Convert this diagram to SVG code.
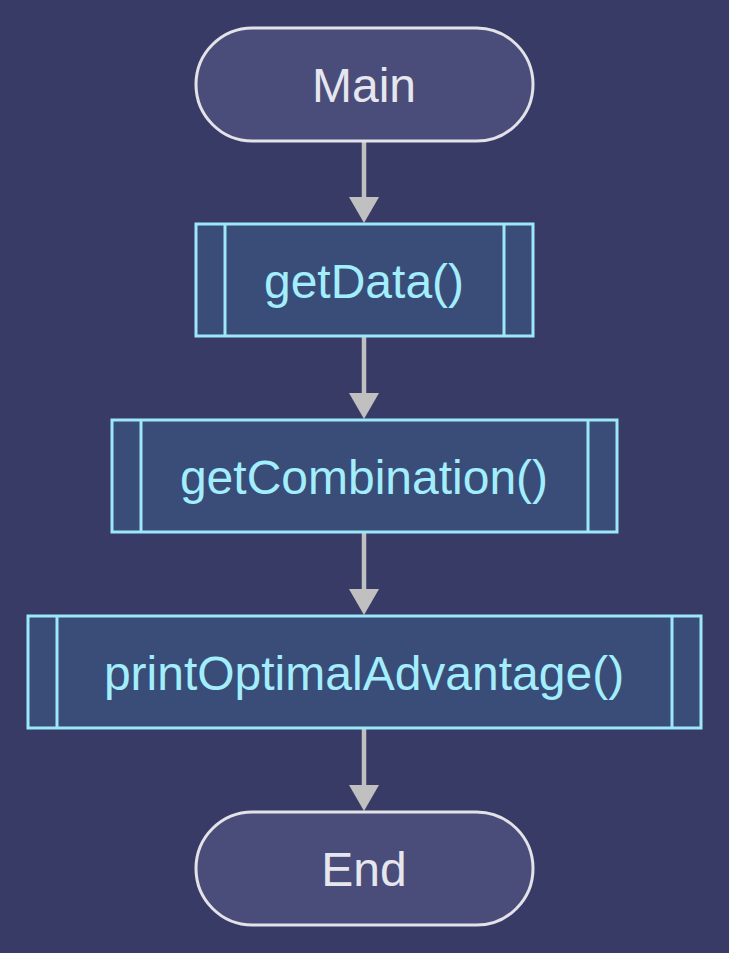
<svg xmlns="http://www.w3.org/2000/svg" width="729" height="953" viewBox="0 0 729 953">
<defs>
<style>
.term{fill:#4a4d7a;stroke:#e2e2e8;stroke-width:3}
.proc{fill:#3a4c78;stroke:#9ce8f8;stroke-width:3}
.ttxt{font-family:"Liberation Sans",Arial,sans-serif;font-size:48px;fill:#e6e6ee;text-anchor:middle}
.ptxt{font-family:"Liberation Sans",Arial,sans-serif;font-size:48px;fill:#a2eefc;text-anchor:middle}
.edge{stroke:#c0c0c0;stroke-width:4.5;fill:none}
.head{fill:#c0c0c0}
</style>
</defs>
<rect width="729" height="953" fill="#393b67"/>
<g id="connectors">
<line class="edge" x1="364" y1="141" x2="364" y2="200"/>
<polygon class="head" points="349,197 379,197 364,223"/>
<line class="edge" x1="364" y1="337" x2="364" y2="396"/>
<polygon class="head" points="349,393 379,393 364,419"/>
<line class="edge" x1="364" y1="533" x2="364" y2="592"/>
<polygon class="head" points="349,589 379,589 364,615"/>
<line class="edge" x1="364" y1="729" x2="364" y2="788"/>
<polygon class="head" points="349,785 379,785 364,811"/>
</g>
<g id="main">
<rect class="term" x="196" y="28" width="337" height="113" rx="56.5"/>
<text class="ttxt" x="364" y="102">Main</text>
</g>
<g id="getData">
<rect class="proc" x="196" y="224" width="337" height="112"/>
<line class="proc" x1="225" y1="224" x2="225" y2="336"/>
<line class="proc" x1="504" y1="224" x2="504" y2="336"/>
<text class="ptxt" x="364" y="298">getData()</text>
</g>
<g id="getCombination">
<rect class="proc" x="112" y="420" width="505" height="112"/>
<line class="proc" x1="141" y1="420" x2="141" y2="532"/>
<line class="proc" x1="588" y1="420" x2="588" y2="532"/>
<text class="ptxt" x="364" y="494">getCombination()</text>
</g>
<g id="printOptimalAdvantage">
<rect class="proc" x="28" y="616" width="673" height="112"/>
<line class="proc" x1="57" y1="616" x2="57" y2="728"/>
<line class="proc" x1="672" y1="616" x2="672" y2="728"/>
<text class="ptxt" x="364" y="690">printOptimalAdvantage()</text>
</g>
<g id="end">
<rect class="term" x="196" y="812" width="337" height="113" rx="56.5"/>
<text class="ttxt" x="364" y="886">End</text>
</g>
</svg>
